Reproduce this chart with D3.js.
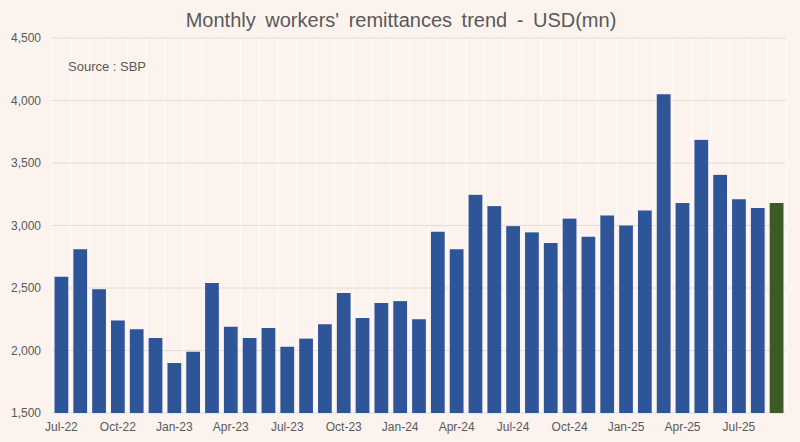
<!DOCTYPE html>
<html>
<head>
<meta charset="utf-8">
<script src="https://cdn.jsdelivr.net/npm/d3@7"></script>
<style>
  html, body { margin: 0; padding: 0; background: #fcf3ee; }
  text { font-family: "Liberation Sans", Arial, sans-serif; }
</style>
</head>
<body>
<div id="chart"></div>
<script>
const WIDTH = 800;
const HEIGHT = 442;

// months Jul-22 .. Sep-25
const months = ['Jul-22','Aug-22','Sep-22','Oct-22','Nov-22','Dec-22','Jan-23','Feb-23','Mar-23','Apr-23','May-23','Jun-23',
  'Jul-23','Aug-23','Sep-23','Oct-23','Nov-23','Dec-23','Jan-24','Feb-24','Mar-24','Apr-24','May-24','Jun-24',
  'Jul-24','Aug-24','Sep-24','Oct-24','Nov-24','Dec-24','Jan-25','Feb-25','Mar-25','Apr-25','May-25','Jun-25',
  'Jul-25','Aug-25','Sep-25'];
const remittances = [2590, 2810, 2490, 2240, 2170, 2100, 1900, 1990, 2540, 2190, 2100, 2180,
  2030, 2095, 2210, 2460, 2260, 2380, 2395, 2250, 2950, 2810, 3245, 3155,
  2995, 2945, 2860, 3055, 2910, 3080, 3000, 3120, 4050, 3180, 3685, 3405,
  3210, 3140, 3180];
const yTicks = [1500, 2000, 2500, 3000, 3500, 4000, 4500];
const xTickLabels = months.filter((m, i) => i % 3 === 0);

const margin = {top: 38, right: 14, bottom: 29, left: 52};

const svg = d3.select('#chart').append('svg')
    .attr('width', WIDTH).attr('height', HEIGHT);

svg.append('rect').attr('width', WIDTH).attr('height', HEIGHT).attr('fill', '#fcf3ee');

const x = d3.scaleBand().domain(months)
    .range([margin.left, WIDTH - margin.right]).paddingInner(0.27).paddingOuter(0.135);
const y = d3.scaleLinear().domain([1500, 4500]).range([HEIGHT - margin.bottom, margin.top]);

// faint vertical separators between categories
const step = x.step();
svg.append('g').selectAll('line').data(d3.range(months.length + 1)).join('line')
    .attr('x1', i => margin.left + i * step).attr('x2', i => margin.left + i * step)
    .attr('y1', y(4500)).attr('y2', y(1500))
    .attr('stroke', '#ffffff').attr('stroke-width', 1).attr('opacity', 0.8);

// horizontal grid
svg.append('g').selectAll('line').data(yTicks).join('line')
    .attr('x1', margin.left).attr('x2', WIDTH - margin.right)
    .attr('y1', d => y(d)).attr('y2', d => y(d))
    .attr('stroke', '#e3dcd8').attr('stroke-width', 1);

// bars
svg.append('g').selectAll('rect').data(remittances).join('rect')
    .attr('x', (d, i) => x(months[i]))
    .attr('y', d => y(d))
    .attr('width', x.bandwidth())
    .attr('height', d => y(1500) - y(d))
    .attr('fill', (d, i) => i === months.length - 1 ? '#3b5a26' : '#2e5597');

// y axis
const yAxis = svg.append('g').attr('transform', `translate(${margin.left - 11},0)`)
    .call(d3.axisLeft(y).tickValues(yTicks).tickFormat(d3.format(',')).tickSize(0).tickPadding(0));
yAxis.select('.domain').remove();
yAxis.selectAll('text').attr('fill', '#595959').attr('font-size', 12)
    .style('font-family', '"Liberation Sans", Arial, sans-serif');

// x axis
const xAxis = svg.append('g').attr('transform', `translate(0,${HEIGHT - margin.bottom})`)
    .call(d3.axisBottom(x).tickValues(xTickLabels).tickSize(0).tickPadding(9));
xAxis.select('.domain').remove();
xAxis.selectAll('text').attr('fill', '#595959').attr('font-size', 12)
    .style('font-family', '"Liberation Sans", Arial, sans-serif');

// title
svg.append('text').attr('x', 401).attr('y', 27).attr('text-anchor', 'middle')
    .attr('fill', '#595959').attr('font-size', 20).attr('word-spacing', 4)
    .text("Monthly workers' remittances trend - USD(mn)");

// source note
svg.append('text').attr('x', 68).attr('y', 71)
    .attr('fill', '#595959').attr('font-size', 13)
    .text('Source : SBP');
</script>
</body>
</html>
